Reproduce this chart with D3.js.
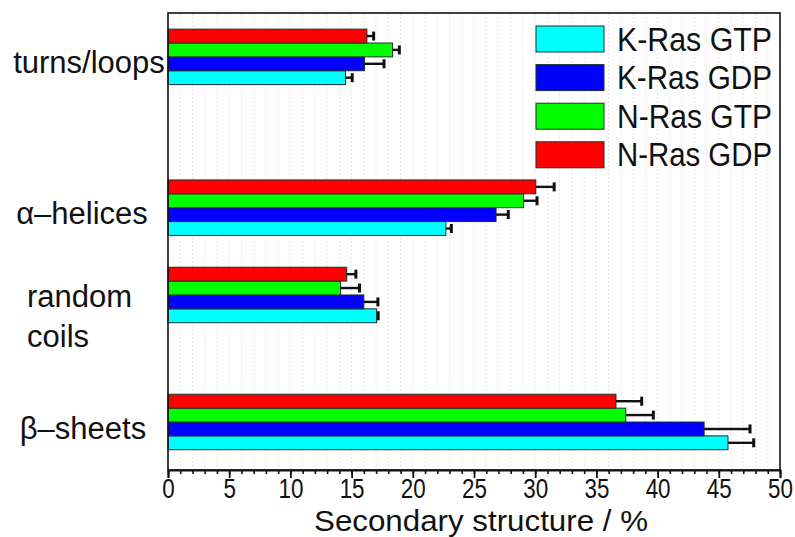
<!DOCTYPE html>
<html>
<head>
<meta charset="utf-8">
<script src="https://cdn.jsdelivr.net/npm/d3@7"></script>
<style>
  html, body { margin: 0; padding: 0; background: #fff; }
  svg { display: block; font-family: "Liberation Sans", Arial, sans-serif; }
</style>
</head>
<body>
<svg id="chart" width="795" height="537"></svg>
<script>
// Secondary structure content of Ras isoforms
const categories = ["turns/loops", "α–helices", "random coils", "β–sheets"];
const categoryLines = [["turns/loops"], ["α–helices"], ["random", "coils"], ["β–sheets"]];
// row position of each category on the value-free vertical axis (0 = bottom, 10 = top)
const categoryRow = [9.04, 5.74, 3.83, 1.05];

const seriesNames = ["K-Ras GTP", "K-Ras GDP", "N-Ras GTP", "N-Ras GDP"];
const seriesColors = ["#00ffff", "#0000ff", "#00ff00", "#ff0000"];

// percentages, one entry per category (same order as categories)
const kRasGTP = [14.5, 22.7, 17.05, 45.75];
const kRasGDP = [16.05, 26.8, 16.0, 43.8];
const nRasGTP = [18.35, 29.05, 14.1, 37.4];
const nRasGDP = [16.25, 30.05, 14.6, 36.6];
const seriesValues = [kRasGTP, kRasGDP, nRasGTP, nRasGDP];

// standard deviations
const kRasGTPErr = [0.55, 0.45, 0.12, 2.1];
const kRasGDPErr = [1.6, 1.0, 1.15, 3.75];
const nRasGTPErr = [0.55, 1.1, 1.55, 2.25];
const nRasGDPErr = [0.55, 1.5, 0.75, 2.1];
const seriesErrors = [kRasGTPErr, kRasGDPErr, nRasGTPErr, nRasGDPErr];

const xTicks = [0, 5, 10, 15, 20, 25, 30, 35, 40, 45, 50];
const xTitle = "Secondary structure / %";

const svg = d3.select("#chart");
const plotL = 168, plotR = 780, plotT = 13, plotB = 470;

const x = d3.scaleLinear().domain([0, 50]).range([plotL, plotR]);
const y = d3.scaleLinear().domain([0, 10]).range([plotB, plotT]);
const barT = 0.3035; // bar thickness in row units

// faint dotted grid every 1 %
svg.append("g")
  .selectAll("line")
  .data(d3.range(1, 50))
  .join("line")
  .attr("x1", d => x(d)).attr("x2", d => x(d))
  .attr("y1", plotT).attr("y2", plotB)
  .attr("stroke", "#efe0e8")
  .attr("stroke-width", 1)
  .attr("stroke-dasharray", "2,2");

// bars
const rows = [];
categories.forEach((c, ci) => {
  seriesNames.forEach((s, si) => {
    rows.push({ ci, si, v: seriesValues[si][ci], e: seriesErrors[si][ci] });
  });
});
const yTop = d => y(categoryRow[d.ci] + (d.si - 1) * barT);
const yBot = d => y(categoryRow[d.ci] + (d.si - 2) * barT);

svg.append("g")
  .selectAll("rect")
  .data(rows)
  .join("rect")
  .attr("x", x(0))
  .attr("y", d => yTop(d))
  .attr("width", d => x(d.v) - x(0))
  .attr("height", d => yBot(d) - yTop(d))
  .attr("fill", d => seriesColors[d.si])
  .attr("stroke", "#1e2e2e")
  .attr("stroke-width", 1);

// one-sided error bars
const eb = svg.append("g").attr("stroke", "#111").attr("stroke-width", 2.4);
rows.forEach(d => {
  const yc = (yTop(d) + yBot(d)) / 2;
  eb.append("line")
    .attr("x1", x(d.v)).attr("x2", x(d.v + d.e))
    .attr("y1", yc).attr("y2", yc);
  eb.append("line")
    .attr("x1", x(d.v + d.e)).attr("x2", x(d.v + d.e))
    .attr("y1", yc - 4.5).attr("y2", yc + 4.5)
    .attr("stroke-width", 3);
});

// frame
svg.append("rect")
  .attr("x", plotL).attr("y", plotT)
  .attr("width", plotR - plotL).attr("height", plotB - plotT)
  .attr("fill", "none").attr("stroke", "#111").attr("stroke-width", 1.6);

// x axis with minor ticks
const minor = d3.axisBottom(x).tickValues(d3.range(0, 51, 1)).tickSize(4).tickFormat("");
svg.append("g").attr("transform", `translate(0,${plotB})`).call(minor)
  .call(a => a.select(".domain").remove())
  .selectAll("line").attr("stroke", "#111").attr("stroke-width", 1.6);

const xAxis = d3.axisBottom(x).tickValues(xTicks).tickSize(8).tickPadding(6).tickFormat(d3.format("d"));
const xa = svg.append("g").attr("transform", `translate(0,${plotB})`).call(xAxis);
xa.select(".domain").attr("stroke", "#111").attr("stroke-width", 1.8);
xa.selectAll(".tick line").attr("stroke", "#111").attr("stroke-width", 1.8);
xa.selectAll(".tick text")
  .attr("font-size", 27)
  .attr("fill", "#111")
  .attr("font-family", "Liberation Sans, Arial, sans-serif")
  .attr("y", 28)
  .attr("dy", null)
  .attr("transform", "scale(0.83,1)");

svg.append("text")
  .attr("x", 481)
  .attr("y", 530.6)
  .attr("text-anchor", "middle")
  .attr("font-size", 29.5)
  .attr("textLength", 334)
  .attr("lengthAdjust", "spacingAndGlyphs")
  .attr("fill", "#111")
  .text(xTitle);

// category labels: anchor and horizontal placement per label
const labelAnchor = ["middle", "middle", "start", "middle"];
const labelX = [89, 82, 27, 83];
categoryLines.forEach((lines, ci) => {
  const yc = y(categoryRow[ci]);
  const t = svg.append("text")
    .attr("text-anchor", labelAnchor[ci])
    .attr("font-size", 31)
    .attr("fill", "#111");
  lines.forEach((ln, li) => {
    t.append("tspan")
      .attr("x", labelX[ci])
      .attr("y", yc + (lines.length > 1 ? 12 + li * 40 : 16.5))
      .text(ln);
  });
});

// legend
const leg = svg.append("g");
seriesNames.forEach((s, i) => {
  const ly = 26 + i * 38.6;
  leg.append("rect")
    .attr("x", 536).attr("y", ly)
    .attr("width", 68).attr("height", 26)
    .attr("fill", seriesColors[i])
    .attr("stroke", "#1e2e2e").attr("stroke-width", 1);
  leg.append("text")
    .attr("x", 617).attr("y", ly + 24.5)
    .attr("font-size", 33.5)
    .attr("fill", "#111")
    .attr("textLength", 155)
    .attr("lengthAdjust", "spacingAndGlyphs")
    .text(s);
});
</script>
</body>
</html>
